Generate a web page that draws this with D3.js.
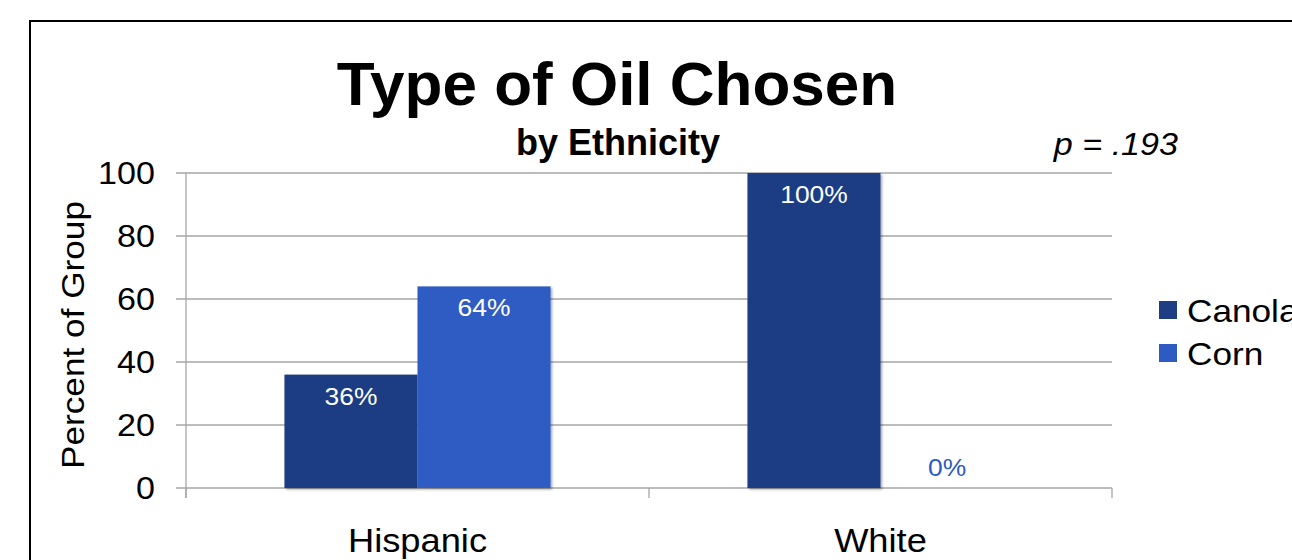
<!DOCTYPE html>
<html>
<head>
<meta charset="utf-8">
<script src="https://cdn.jsdelivr.net/npm/d3@7"></script>
<style>
  html, body { margin: 0; padding: 0; background: #fff; }
  svg { display: block; font-family: "Liberation Sans", Arial, sans-serif; }
</style>
</head>
<body>
<svg id="chart" width="1292" height="560"></svg>
<script>
const categories = ["Hispanic", "White"];
const seriesNames = ["Canola", "Corn"];
const canolaValues = [36, 100];
const cornValues = [64, 0];
const yTicks = [0, 20, 40, 60, 80, 100];
const colors = ["#1F3D84", "#2D5BC3"];

const SX = 1.1; // horizontal stretch of regular text
const svg = d3.select("#chart");

// outer frame
svg.append("rect").attr("x", 30).attr("y", 21).attr("width", 1300).attr("height", 600)
  .attr("fill", "none").attr("stroke", "#000").attr("stroke-width", 2);

const plot = { left: 186, right: 1112, top: 173, bottom: 488 };

const x0 = d3.scaleBand().domain(categories).range([plot.left, plot.right]).padding(0);
const x1 = d3.scaleBand().domain(seriesNames).range([0, x0.bandwidth()]).paddingInner(0).paddingOuter(0.74);
const y = d3.scaleLinear().domain([0, 100]).range([plot.bottom, plot.top]);

// gridlines
svg.append("g").selectAll("line").data(yTicks).join("line")
  .attr("x1", plot.left - 10).attr("x2", plot.right)
  .attr("y1", d => y(d)).attr("y2", d => y(d))
  .attr("stroke", "#a6a6a6").attr("stroke-width", 1.3);

// y axis line
svg.append("line").attr("x1", plot.left).attr("x2", plot.left)
  .attr("y1", plot.top).attr("y2", plot.bottom + 10)
  .attr("stroke", "#a6a6a6").attr("stroke-width", 1.3);

// x tick marks at category boundaries
const xTickPos = [plot.left, x0("White"), plot.right];
svg.append("g").selectAll("line").data(xTickPos).join("line")
  .attr("x1", d => d).attr("x2", d => d)
  .attr("y1", plot.bottom).attr("y2", plot.bottom + 10)
  .attr("stroke", "#a6a6a6").attr("stroke-width", 1.3);

// y tick labels
svg.append("g").selectAll("text").data(yTicks).join("text")
  .attr("transform", d => `translate(155,${y(d) + 11}) scale(${SX},1)`)
  .attr("text-anchor", "end").attr("font-size", 31).attr("fill", "#000")
  .text(d => d);

// y axis title
svg.append("text").attr("transform", `translate(84,335) rotate(-90) scale(${SX},1)`)
  .attr("text-anchor", "middle").attr("font-size", 32).text("Percent of Group");

// x labels
svg.append("g").selectAll("text").data(categories).join("text")
  .attr("transform", d => `translate(${x0(d) + x0.bandwidth() / 2},552) scale(${SX},1)`)
  .attr("text-anchor", "middle").attr("font-size", 33)
  .text(d => d);

// data
const rows = [];
categories.forEach((c, i) => {
  rows.push({ cat: c, series: "Canola", value: canolaValues[i], color: colors[0] });
  rows.push({ cat: c, series: "Corn", value: cornValues[i], color: colors[1] });
});

// shadow filter
const defs = svg.append("defs");
const f = defs.append("filter").attr("id", "sh").attr("x", "-10%").attr("y", "-10%").attr("width", "130%").attr("height", "130%");
f.append("feDropShadow").attr("dx", 1.5).attr("dy", 1.5).attr("stdDeviation", 1.2).attr("flood-color", "#000").attr("flood-opacity", 0.35);

svg.append("g").selectAll("rect").data(rows.filter(d => d.value > 0)).join("rect")
  .attr("x", d => x0(d.cat) + x1(d.series))
  .attr("width", x1.bandwidth())
  .attr("y", d => y(d.value))
  .attr("height", d => y(0) - y(d.value))
  .attr("fill", d => d.color)
  .attr("filter", "url(#sh)");

svg.append("g").selectAll("text").data(rows).join("text")
  .attr("transform", d => `translate(${x0(d.cat) + x1(d.series) + x1.bandwidth() / 2},${d.value > 0 ? y(d.value) + 30 : y(0) - 12}) scale(${SX},1)`)
  .attr("text-anchor", "middle").attr("font-size", 24)
  .attr("fill", d => d.value > 0 ? "#fff" : colors[1])
  .text(d => d.value + "%");

// titles
svg.append("text").attr("x", 617).attr("y", 105).attr("text-anchor", "middle")
  .attr("font-size", 62).attr("font-weight", "bold").text("Type of Oil Chosen");
svg.append("text").attr("x", 618).attr("y", 155).attr("text-anchor", "middle")
  .attr("font-size", 36).attr("font-weight", "bold").text("by Ethnicity");
svg.append("text").attr("transform", `translate(1178,155) scale(${SX},1)`).attr("text-anchor", "end")
  .attr("font-size", 31).attr("font-style", "italic").style("white-space", "pre")
  .text("p = .193");

// legend
const leg = svg.append("g").selectAll("g").data(seriesNames).join("g")
  .attr("transform", (d, i) => `translate(1159,${301 + i * 43})`);
leg.append("rect").attr("width", 18).attr("height", 18).attr("fill", (d, i) => colors[i]);
leg.append("text").attr("transform", `translate(28,21) scale(${SX},1)`).attr("font-size", 32).text(d => d);
</script>
</body>
</html>
